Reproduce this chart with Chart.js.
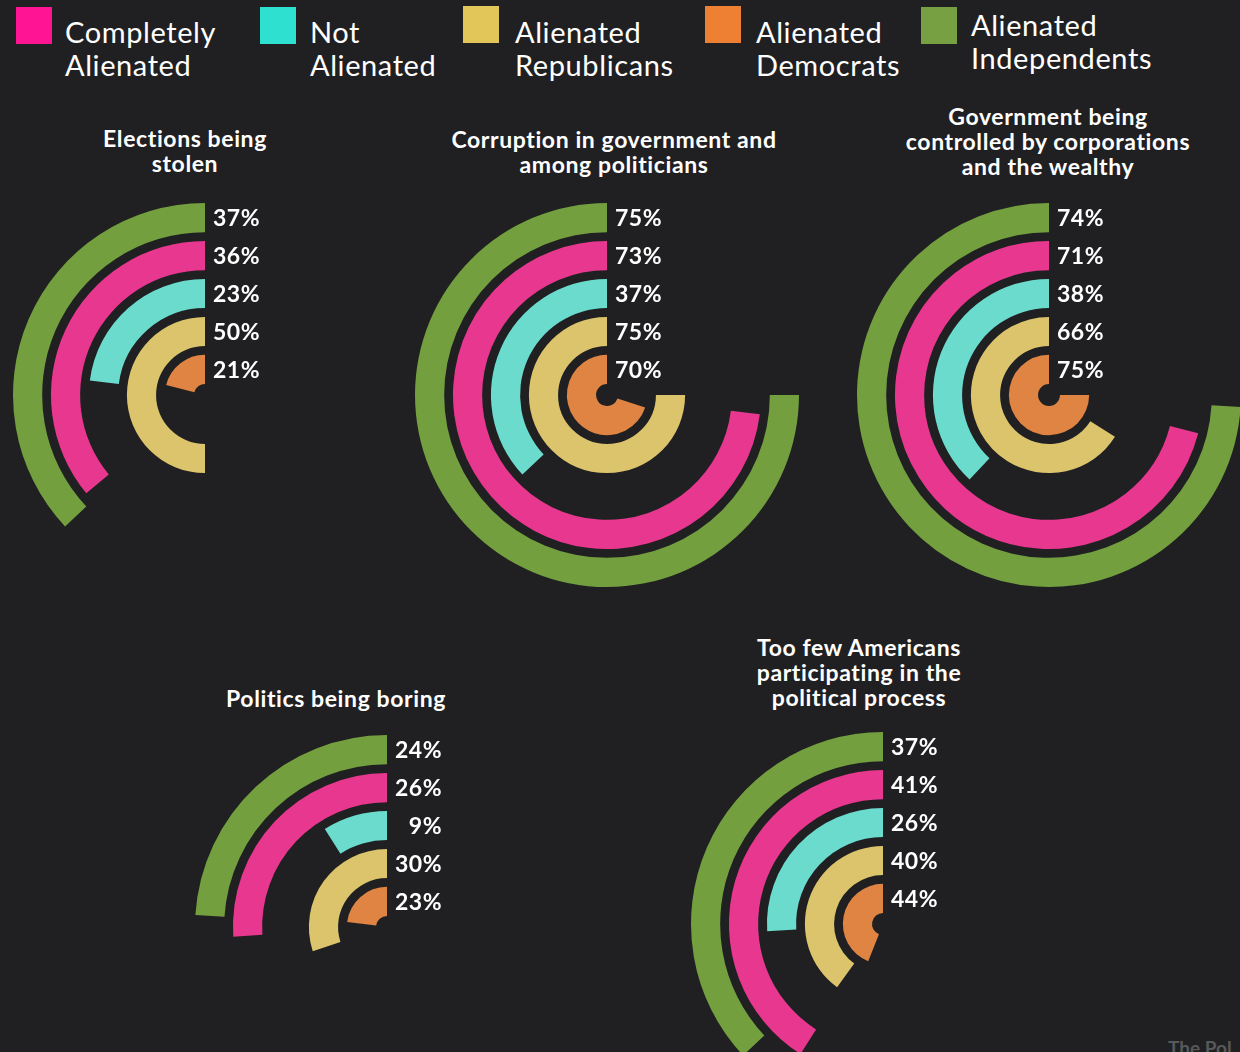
<!DOCTYPE html>
<html>
<head>
<meta charset="utf-8">
<script src="https://cdn.jsdelivr.net/npm/chart.js@4.4.0/dist/chart.umd.min.js"></script>
<style>
  html, body { margin: 0; padding: 0; }
  body {
    width: 1240px; height: 1052px; overflow: hidden; position: relative;
    background: #202022; font-family: Lato, "Open Sans", sans-serif; color: #fff;
  }
  .sw { position: absolute; width: 36px; height: 37px; }
  .lg { position: absolute; font-size: 29px; line-height: 33px; font-weight: 400; letter-spacing: 0.6px; white-space: nowrap; }
  .ttl { position: absolute; font-size: 23px; line-height: 25px; font-weight: 700; letter-spacing: 0.6px; text-align: center; white-space: nowrap; transform: translateX(-50%); }
  canvas { position: absolute; }
  .mark { position: absolute; left: 1168px; top: 1036px; font-size: 19px; font-weight: 700; color: #58585a; white-space: nowrap; }
</style>
</head>
<body>

<div class="sw" style="left:16px;top:7px;background:#ff1493"></div>
<div class="lg" style="left:65px;top:15px">Completely<br>Alienated</div>
<div class="sw" style="left:260px;top:7px;background:#2ee0cf"></div>
<div class="lg" style="left:310px;top:15px">Not<br>Alienated</div>
<div class="sw" style="left:463px;top:6px;background:#e2c65a"></div>
<div class="lg" style="left:515px;top:15px">Alienated<br>Republicans</div>
<div class="sw" style="left:705px;top:6px;background:#ee8033"></div>
<div class="lg" style="left:756px;top:15px">Alienated<br>Democrats</div>
<div class="sw" style="left:921px;top:7px;background:#76a042"></div>
<div class="lg" style="left:971px;top:8px">Alienated<br>Independents</div>

<div class="ttl" style="left:185px;top:126px">Elections being<br>stolen</div>
<div class="ttl" style="left:614px;top:127px">Corruption in government and<br>among politicians</div>
<div class="ttl" style="left:1048px;top:104px">Government being<br>controlled by corporations<br>and the wealthy</div>
<div class="ttl" style="left:336px;top:686px">Politics being boring</div>
<div class="ttl" style="left:859px;top:635px">Too few Americans<br>participating in the<br>political process</div>

<canvas id="c0" width="420" height="420" style="left:-5px;top:185px"></canvas>
<canvas id="c1" width="420" height="420" style="left:397px;top:185px"></canvas>
<canvas id="c2" width="420" height="420" style="left:839px;top:185px"></canvas>
<canvas id="c3" width="420" height="420" style="left:177px;top:717px"></canvas>
<canvas id="c4" width="420" height="420" style="left:673px;top:714px"></canvas>

<div class="mark">The Pol</div>

<script>
// topics, one chart each
const topics = ['Elections being stolen', 'Corruption in government and among politicians',
  'Government being controlled by corporations and the wealthy', 'Politics being boring',
  'Too few Americans participating in the political process'];

// % per group, same order as topics
const independents = [37, 75, 74, 24, 37];
const completely   = [36, 73, 71, 26, 41];
const notAlienated = [23, 37, 38, 9, 26];
const republicans  = [50, 75, 66, 30, 40];
const democrats    = [21, 70, 75, 23, 44];

// rings from outside in
const rings = [independents, completely, notAlienated, republicans, democrats];
const ringColors = ['#739f3f', '#e8378f', '#6bdbcd', '#dbc46b', '#df8442'];

const clear = 'rgba(0,0,0,0)';

const pctLabels = {
  id: 'pctLabels',
  afterDatasetsDraw(chart) {
    const ctx = chart.ctx;
    ctx.save();
    ctx.fillStyle = '#fff';
    ctx.font = '700 23px Lato';
    ctx.letterSpacing = '0.5px';
    ctx.textAlign = 'right';
    ctx.textBaseline = 'middle';
    chart.data.datasets.forEach((ds, i) => {
      if (ds.spacer) return;
      const arc = chart.getDatasetMeta(i).data[1];
      const p = arc.getProps(['x', 'y', 'innerRadius', 'outerRadius']);
      ctx.fillText(ds.data[1] + '%', p.x + 55, p.y - (p.innerRadius + p.outerRadius) / 2 + 1);
    });
    ctx.restore();
  }
};

topics.forEach((t, k) => {
  const datasets = [];
  rings.forEach((vals, r) => {
    const v = vals[k];
    // blank part first so the coloured part ends at 12 o'clock
    datasets.push({ data: [100 - v, v], backgroundColor: [clear, ringColors[r]], borderWidth: 0, weight: 29 });
    if (r < rings.length - 1) {
      datasets.push({ data: [100], backgroundColor: [clear], borderWidth: 0, weight: 8.75, spacer: true });
    }
  });

  new Chart(document.getElementById('c' + k), {
    type: 'doughnut',
    data: { labels: ['rest', t], datasets: datasets },
    options: {
      responsive: false,
      animation: false,
      events: [],
      radius: 192,
      cutout: 12,
      layout: { padding: 0 },
      plugins: { legend: { display: false }, tooltip: { enabled: false } }
    },
    plugins: [pctLabels]
  });
});
</script>
</body>
</html>
